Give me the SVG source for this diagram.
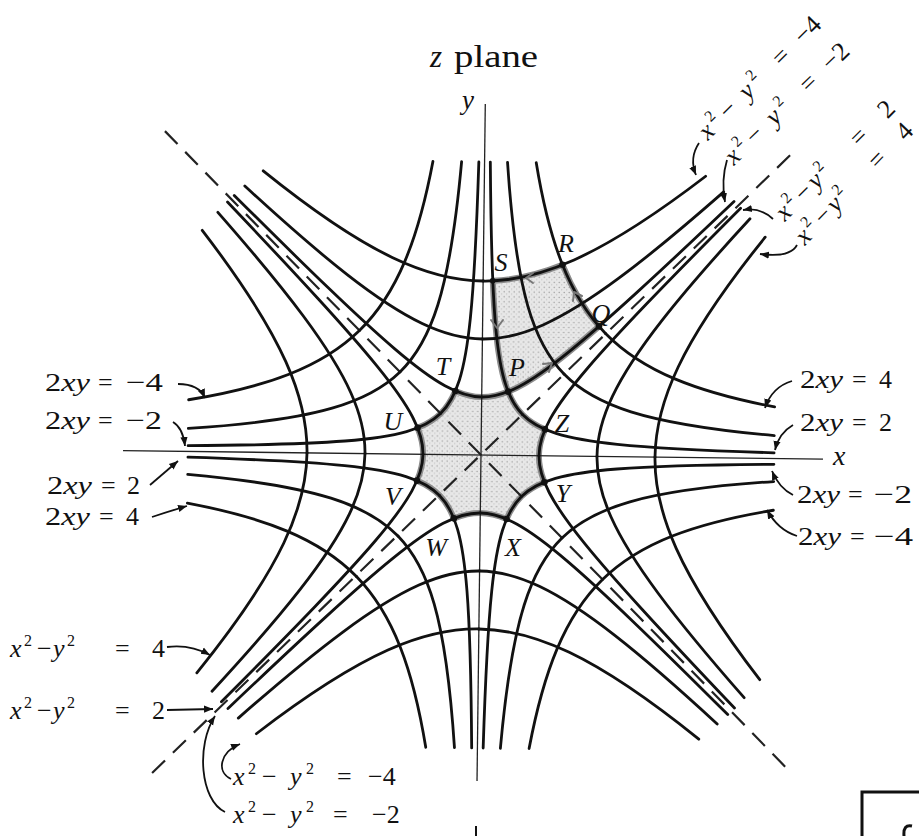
<svg xmlns="http://www.w3.org/2000/svg" width="919" height="836" viewBox="0 0 919 836">
<defs>
<style>
text{font-family:'Liberation Serif','Times New Roman','DejaVu Serif',serif}
.lbl{font-family:'Liberation Serif','Times New Roman','DejaVu Serif',serif;font-size:26px;fill:#111}
.it{font-style:italic}
.sup{font-size:16px}
.arr{fill:none;stroke:#111;stroke-width:1.8;marker-end:url(#ah)}
.reg{fill:url(#stip);stroke:#8c8c8c;stroke-width:6;stroke-linejoin:round}
.ga{fill:none;stroke:#777;stroke-width:2;stroke-linecap:round;stroke-linejoin:round}
</style>
<pattern id="stip" width="5" height="5" patternUnits="userSpaceOnUse"><rect width="5" height="5" fill="#e8e8e8"/><circle cx="1.2" cy="1.5" r="0.7" fill="#9a9a9a"/><circle cx="3.7" cy="3.8" r="0.6" fill="#b4b4b4"/></pattern>
<marker id="ah" viewBox="0 0 10 10" refX="10" refY="5" markerWidth="9" markerHeight="9" markerUnits="userSpaceOnUse" orient="auto"><path d="M0,1 L10,5 L0,9 Z" fill="#111"/></marker>
<path id="h1" d="M58,0 C58,11.6 61.37,23.18 68.76,36.93 C76.15,50.68 87.51,66.55 105.02,87.55 C119.61,105.05 138.46,126.11 164.04,153.45 C187.93,178.99 217.65,209.96 256.55,249.9"/>
<path id="h2" d="M116,0 C116,19.33 120.74,38.65 130.81,60.45 C140.89,82.25 156.28,106.49 179,136.32 C200.45,164.48 228.4,197.59 266.07,239.45"/>
<path id="h3" d="M174,0 C174,29 181.1,57.97 196.21,90.67 C213.17,127.36 240.11,168.61 281.48,221.25"/>
<path id="q1" d="M41.01,41.01 C49.21,32.81 59.78,27.01 74.73,22.51 C89.68,18.01 108.93,14.82 136.16,12.35 C170.94,9.2 218.16,7.21 293,5.74"/>
<path id="q2" d="M82.02,82.02 C98.43,65.62 119.57,54.02 149.46,45.02 C183,34.92 227.25,28.11 293,22.96"/>
<path id="q3" d="M123.04,123.04 C141.5,104.58 164.02,90.22 192.96,78.45 C219.83,67.53 252.21,58.86 293,51.67"/>
<g id="set1"><use href="#h1"/><use href="#h2"/><use href="#h3"/><use href="#q1"/><use href="#q2"/><use href="#q3"/></g>
</defs>
<rect width="919" height="836" fill="#fff"/>

<g id="plot" transform="translate(481,455) rotate(0.7)">
  <g id="regions">
    <path id="hexagon" class="reg" d="M63.72,-26.4 C55.96,-7.68 55.96,7.68 63.72,26.4 C44.99,34.14 34.14,44.99 26.4,63.72 C7.68,55.96 -7.68,55.96 -26.4,63.72 C-34.14,44.99 -44.99,34.14 -63.72,26.4 C-55.96,7.68 -55.96,-7.68 -63.72,-26.4 C-44.99,-34.14 -34.14,-44.99 -26.4,-63.72 C-7.68,-55.96 7.68,-55.96 26.4,-63.72 C34.14,-44.99 44.99,-34.14 63.72,-26.4 Z"/>
    <path id="pqrs" class="reg" d="M26.4,-63.72 C47.77,-72.57 72.79,-91.01 116.39,-130.06 C101.45,-146.76 89.36,-166.62 79.19,-191.17 C54.64,-181 32.03,-175.51 9.65,-174.3 C12.89,-115.82 17.54,-85.1 26.4,-63.72 Z"/>
  </g>
  <g id="asymptotes" fill="none" stroke="#222" stroke-width="2.2" stroke-dasharray="18 11">
    <line x1="-320" y1="-320" x2="310" y2="310"/>
    <line x1="-325" y1="322" x2="310" y2="-308"/>
  </g>
  <g id="axes" stroke="#222" stroke-width="1.3">
    <line x1="-358" y1="0" x2="342" y2="0"/>
    <line x1="0" y1="-351" x2="0" y2="326"/>
  </g>
  <g id="curves" fill="none" stroke="#111" stroke-width="2.8" stroke-linecap="round">
    <use href="#set1"/>
    <use href="#set1" transform="matrix(1,0,0,-1,0,0)"/>
    <use href="#set1" transform="matrix(-1,0,0,1,0,0)"/>
    <use href="#set1" transform="matrix(-1,0,0,-1,0,0)"/>
    <use href="#set1" transform="matrix(0,1,1,0,0,0)"/>
    <use href="#set1" transform="matrix(0,-1,1,0,0,0)"/>
    <use href="#set1" transform="matrix(0,1,-1,0,0,0)"/>
    <use href="#set1" transform="matrix(0,-1,-1,0,0,0)"/>
  </g>
  <g id="vertices" fill="#111">
    <circle cx="63.72" cy="-26.4" r="3.3"/>
    <circle cx="26.4" cy="-63.72" r="3.3"/>
    <circle cx="-26.4" cy="-63.72" r="3.3"/>
    <circle cx="-63.72" cy="-26.4" r="3.3"/>
    <circle cx="-63.72" cy="26.4" r="3.3"/>
    <circle cx="-26.4" cy="63.72" r="3.3"/>
    <circle cx="26.4" cy="63.72" r="3.3"/>
    <circle cx="63.72" cy="26.4" r="3.3"/>
    <circle cx="116.39" cy="-130.06" r="3.3"/>
    <circle cx="79.19" cy="-191.17" r="3.3"/>
    <circle cx="9.65" cy="-174.3" r="2.8"/>
  </g>
</g>

<g id="direction-arrows">
  <path class="ga" d="M491,320 L497,328 L503,320"/>
  <path class="ga" d="M543,364 L552,363 L549,372"/>
  <path class="ga" d="M573,301 L574,292 L582,296"/>
  <path class="ga" d="M533,273 L526,278 L533,283"/>
</g>

<g id="vertex-labels" class="lbl it" font-size="25" text-anchor="middle">
  <text x="443" y="375">T</text>
  <text x="393" y="430">U</text>
  <text x="393" y="505">V</text>
  <text x="436" y="556">W</text>
  <text x="513" y="556">X</text>
  <text x="563" y="502">Y</text>
  <text x="562" y="432">Z</text>
  <text x="517" y="376">P</text>
  <text x="601" y="322">Q</text>
  <text x="566" y="252">R</text>
  <text x="501" y="271">S</text>
</g>

<g id="titles" class="lbl">
  <text x="430" y="67" font-size="31" class="it">z</text>
  <text x="454" y="67" font-size="31" textLength="84" lengthAdjust="spacingAndGlyphs">plane</text>
  <text x="462" y="109" font-size="27" class="it">y</text>
  <text x="833" y="465" font-size="28" class="it">x</text>
</g>

<g id="labels-left" class="lbl">
  <text x="45" y="391" textLength="45" lengthAdjust="spacingAndGlyphs">2<tspan class="it">xy</tspan></text><text x="98" y="391">=</text><text x="126" y="391" textLength="37" lengthAdjust="spacingAndGlyphs">−4</text>
  <text x="45" y="429" textLength="45" lengthAdjust="spacingAndGlyphs">2<tspan class="it">xy</tspan></text><text x="98" y="429">=</text><text x="126" y="429" textLength="36" lengthAdjust="spacingAndGlyphs">−2</text>
  <text x="47" y="494" textLength="45" lengthAdjust="spacingAndGlyphs">2<tspan class="it">xy</tspan></text><text x="101" y="494">=</text><text x="127" y="494">2</text>
  <text x="45" y="525" textLength="45" lengthAdjust="spacingAndGlyphs">2<tspan class="it">xy</tspan></text><text x="99" y="525">=</text><text x="126" y="525">4</text>
</g>
<g id="labels-right" class="lbl">
  <text x="800" y="388" textLength="43" lengthAdjust="spacingAndGlyphs">2<tspan class="it">xy</tspan></text><text x="852" y="388">=</text><text x="879" y="388">4</text>
  <text x="800" y="431" textLength="43" lengthAdjust="spacingAndGlyphs">2<tspan class="it">xy</tspan></text><text x="852" y="431">=</text><text x="879" y="431">2</text>
  <text x="797" y="503" textLength="43" lengthAdjust="spacingAndGlyphs">2<tspan class="it">xy</tspan></text><text x="848" y="503">=</text><text x="874" y="503" textLength="38" lengthAdjust="spacingAndGlyphs">−2</text>
  <text x="798" y="545" textLength="43" lengthAdjust="spacingAndGlyphs">2<tspan class="it">xy</tspan></text><text x="850" y="545">=</text><text x="874" y="545" textLength="39" lengthAdjust="spacingAndGlyphs">−4</text>
</g>

<g id="labels-bottom" class="lbl" font-size="25">
  <g transform="translate(10,657)">
    <text x="0" y="0" class="it">x</text><text x="14" y="-11" class="sup">2</text><text x="27" y="0">−</text><text x="43" y="0" class="it">y</text><text x="57" y="-11" class="sup">2</text><text x="105" y="0">=</text><text x="142" y="0">4</text>
  </g>
  <g transform="translate(10,719)">
    <text x="0" y="0" class="it">x</text><text x="14" y="-11" class="sup">2</text><text x="27" y="0">−</text><text x="43" y="0" class="it">y</text><text x="57" y="-11" class="sup">2</text><text x="105" y="0">=</text><text x="142" y="0">2</text>
  </g>
  <g transform="translate(233,785)">
    <text x="0" y="0" class="it">x</text><text x="15" y="-11" class="sup">2</text><text x="29" y="0">−</text><text x="57" y="0" class="it">y</text><text x="73" y="-11" class="sup">2</text><text x="104" y="0">=</text><text x="135" y="0">−4</text>
  </g>
  <g transform="translate(233,823)">
    <text x="0" y="0" class="it">x</text><text x="15" y="-11" class="sup">2</text><text x="29" y="0">−</text><text x="57" y="0" class="it">y</text><text x="73" y="-11" class="sup">2</text><text x="100" y="0">=</text><text x="139" y="0">−2</text>
  </g>
</g>

<g id="labels-diagonal" class="lbl" font-size="25">
  <g transform="translate(708,141) rotate(-45)">
    <text x="0" y="0" class="it">x</text><text x="15" y="-11" class="sup">2</text><text x="29" y="0">−</text><text x="57" y="0" class="it">y</text><text x="73" y="-11" class="sup">2</text><text x="104" y="0">=</text><text x="135" y="0">−4</text>
  </g>
  <g transform="translate(734,166) rotate(-44)">
    <text x="0" y="0" class="it">x</text><text x="15" y="-11" class="sup">2</text><text x="29" y="0">−</text><text x="57" y="0" class="it">y</text><text x="73" y="-11" class="sup">2</text><text x="104" y="0">=</text><text x="135" y="0">−2</text>
  </g>
  <g transform="translate(785,222) rotate(-45)">
    <text x="0" y="0" class="it">x</text><text x="14" y="-11" class="sup">2</text><text x="27" y="0">−</text><text x="45" y="0" class="it">y</text><text x="59" y="-11" class="sup">2</text><text x="105" y="0">=</text><text x="145" y="0">2</text>
  </g>
  <g transform="translate(805,246) rotate(-46)">
    <text x="0" y="0" class="it">x</text><text x="14" y="-11" class="sup">2</text><text x="27" y="0">−</text><text x="45" y="0" class="it">y</text><text x="59" y="-11" class="sup">2</text><text x="105" y="0">=</text><text x="145" y="0">4</text>
  </g>
</g>

<g id="connectors">
  <path class="arr" d="M178,384 Q199,384 205,398"/>
  <path class="arr" d="M173,422 Q183,428 185,446"/>
  <path class="arr" d="M150,485 Q164,473 178,461"/>
  <path class="arr" d="M152,517 Q170,511 187,506"/>
  <path class="arr" d="M792,381 Q772,387 765,408"/>
  <path class="arr" d="M793,425 Q779,433 775,450"/>
  <path class="arr" d="M793,495 Q779,488 772,471"/>
  <path class="arr" d="M797,536 Q778,530 767,510"/>
  <path class="arr" d="M167,647 Q190,644 210,655"/>
  <path class="arr" d="M167,710 L213,709"/>
  <path class="arr" d="M231,779 C216,772 220,752 240,744"/>
  <path class="arr" d="M225,812 C200,800 196,745 215,716"/>
  <path class="arr" d="M699,143 Q689,158 696,175"/>
  <path class="arr" d="M727,160 Q721,180 725,202"/>
  <path class="arr" d="M773,219 Q760,207 743,210"/>
  <path class="arr" d="M797,245 Q790,258 760,254"/>
</g>

<g id="page-marks" fill="none" stroke="#111" stroke-width="3">
  <path d="M862,836 V792 H919"/>
  <path d="M912,826 Q903,824 904,836"/>
  <path d="M476,826 V836" stroke-width="2"/>
</g>
</svg>
